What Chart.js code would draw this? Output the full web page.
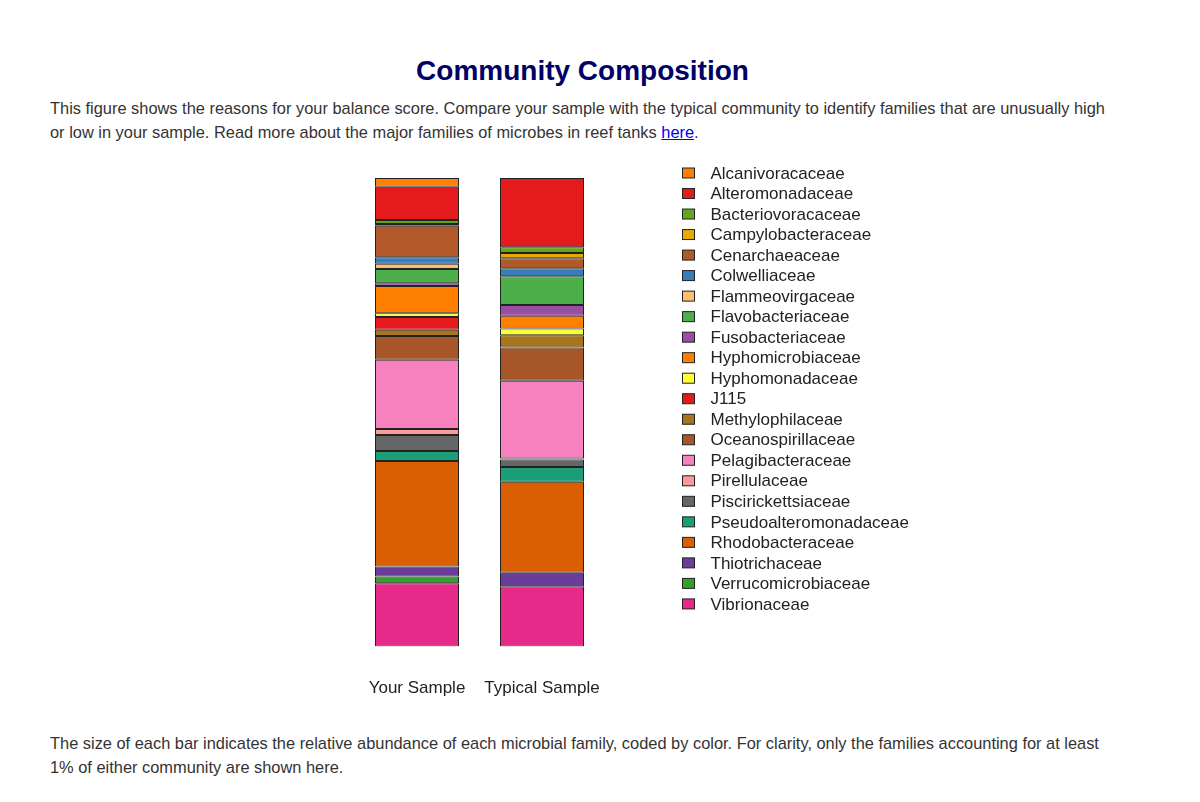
<!DOCTYPE html>
<html>
<head>
<meta charset="utf-8">
<script src="https://cdn.jsdelivr.net/npm/chart.js@4.4.1/dist/chart.umd.min.js"></script>
<style>
  html, body { margin: 0; padding: 0; background: #fff; width: 1200px; height: 802px; overflow: hidden; }
  body { font-family: "Liberation Sans", Arial, sans-serif; position: relative; }
  #title { position: absolute; left: 50px; width: 1065px; top: 55px; margin: 0; text-align: center;
           font-size: 28px; line-height: 32px; font-weight: bold; color: #000066; }
  .txt { position: absolute; left: 50px; width: 1068px; margin: 0; font-size: 16.4px; line-height: 24px; color: #333333; }
  #p1 { top: 96px; }
  #p2 { top: 731px; }
  a { color: #0000EE; text-decoration: underline; }
  #wrap { position: absolute; left: 340px; top: 160px; width: 600px; height: 542px; }
</style>
</head>
<body>
<h1 id="title">Community Composition</h1>
<p class="txt" id="p1">This figure shows the reasons for your balance score. Compare your sample with the typical community to identify families that are unusually high or low in your sample. Read more about the major families of microbes in reef tanks <a href="#">here</a>.</p>
<div id="wrap"><canvas id="c" width="600" height="542"></canvas></div>
<p class="txt" id="p2">The size of each bar indicates the relative abundance of each microbial family, coded by color. For clarity, only the families accounting for at least 1% of either community are shown here.</p>

<script>
const categories = ["Your Sample", "Typical Sample"];

const families = [
  "Alcanivoracaceae", "Alteromonadaceae", "Bacteriovoracaceae", "Campylobacteraceae",
  "Cenarchaeaceae", "Colwelliaceae", "Flammeovirgaceae", "Flavobacteriaceae",
  "Fusobacteriaceae", "Hyphomicrobiaceae", "Hyphomonadaceae", "J115",
  "Methylophilaceae", "Oceanospirillaceae", "Pelagibacteraceae", "Pirellulaceae",
  "Piscirickettsiaceae", "Pseudoalteromonadaceae", "Rhodobacteraceae", "Thiotrichaceae",
  "Verrucomicrobiaceae", "Vibrionaceae"
];

// relative abundance (%) per family, same order as families
const yourSample = [
  1.86, 7.10, 0.85, 0.36,
  6.74, 1.37, 1.13, 3.05,
  0.58, 5.82, 0.79, 2.71,
  1.34, 5.06, 14.79, 1.28,
  3.41, 2.13, 22.55, 2.13,
  1.41, 13.54
];

const typicalSample = [
  0, 14.78, 1.22, 1.13,
  2.13, 1.71, 0, 6.12,
  2.28, 2.77, 1.41, 0,
  2.62, 7.12, 16.55, 0.21,
  1.64, 3.13, 19.40, 2.90,
  0, 12.88
];

const colors = [
  "#FF7F00", "#E41A1C", "#66A61E", "#E6AB02",
  "#B15928", "#377EB8", "#FDBF6F", "#4DAF4A",
  "#984EA3", "#FF7F00", "#FFFF33", "#E41A1C",
  "#A6761D", "#A65628", "#F781BF", "#FB9A99",
  "#666666", "#1B9E77", "#D95F02", "#6A3D9A",
  "#33A02C", "#E7298A"
];

// first family on top of the stack -> build datasets bottom-up
const datasets = families.map((name, i) => ({
  label: name,
  data: [yourSample[i], typicalSample[i]],
  backgroundColor: colors[i],
  borderColor: "#222222",
  borderWidth: 1,
  borderSkipped: false,
  barPercentage: 0.672,
  categoryPercentage: 1.0
})).reverse();

const legendPlugin = {
  id: "sideLegend",
  afterDraw(chart) {
    const ctx = chart.ctx;
    ctx.save();
    ctx.font = '17px "Liberation Sans", Arial, sans-serif';
    ctx.textBaseline = "middle";
    ctx.textAlign = "left";
    families.forEach((name, i) => {
      const cy = 13 + i * 20.52;
      ctx.fillStyle = colors[i];
      ctx.fillRect(342.5, cy - 5, 12, 10);
      ctx.strokeStyle = "#222222";
      ctx.lineWidth = 1;
      ctx.strokeRect(342.5, cy - 5, 12, 10);
      ctx.fillStyle = "#222222";
      ctx.fillText(name, 370.5, cy + 1);
    });
    ctx.restore();
  }
};

new Chart(document.getElementById("c"), {
  type: "bar",
  data: { labels: categories, datasets: datasets },
  options: {
    responsive: false,
    animation: false,
    layout: { padding: { left: 14.5, right: 335.5, top: 18, bottom: 0 } },
    plugins: {
      legend: { display: false },
      tooltip: { enabled: false }
    },
    scales: {
      x: {
        stacked: true,
        grid: { display: false, drawTicks: true, tickLength: 29 },
        border: { display: false },
        ticks: { color: "#222222", padding: 3, font: { size: 17, family: '"Liberation Sans", Arial, sans-serif' } }
      },
      y: {
        stacked: true,
        display: false,
        min: 0,
        max: 100
      }
    }
  },
  plugins: [legendPlugin]
});
</script>
</body>
</html>
